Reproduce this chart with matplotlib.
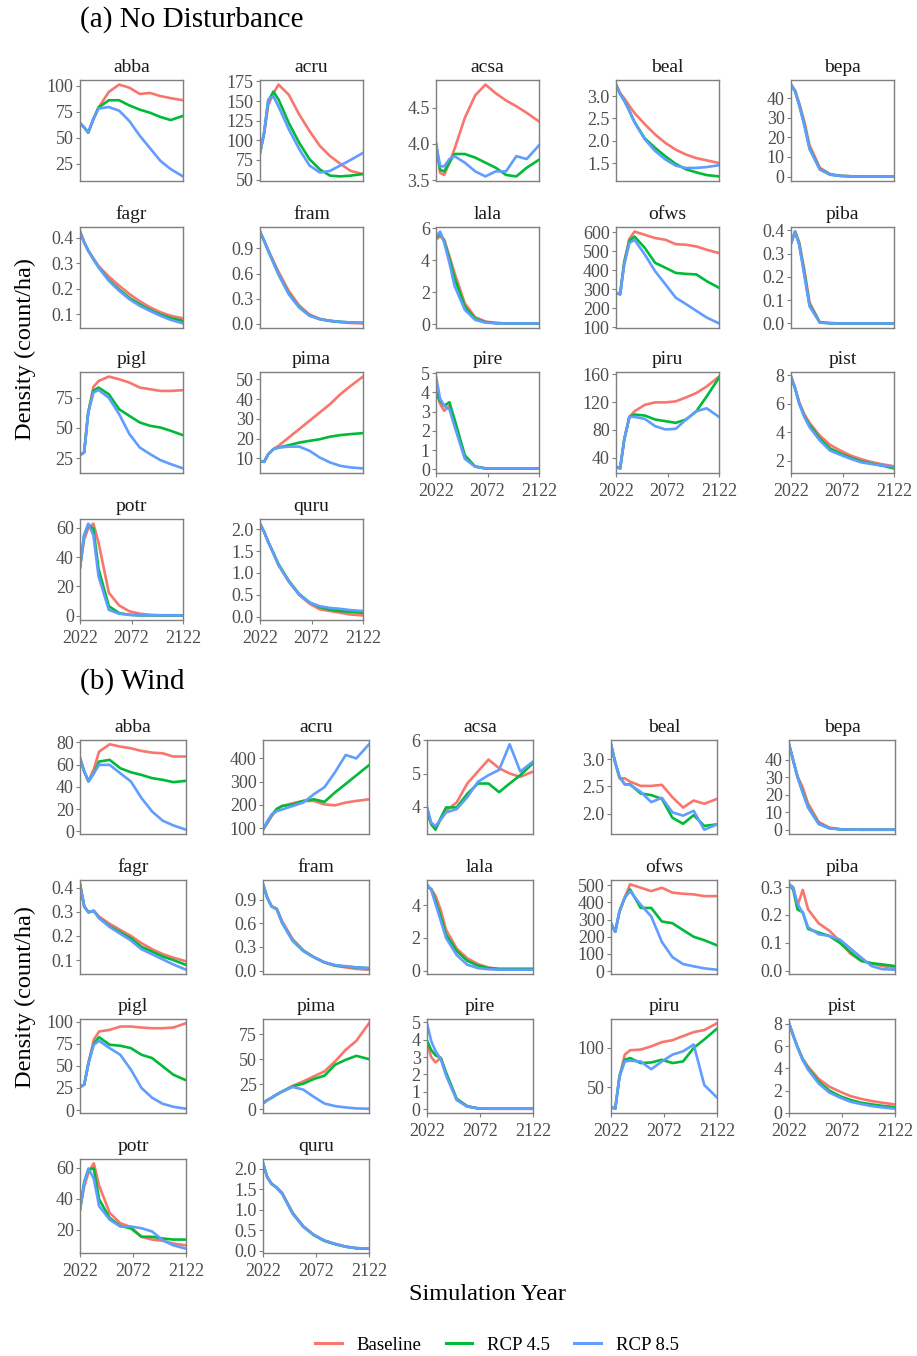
import numpy as np
import matplotlib
matplotlib.use("Agg")
import matplotlib.pyplot as plt
from matplotlib.lines import Line2D

plt.rcParams['font.family'] = ['Liberation Serif', 'DejaVu Serif']

years = [2022, 2026, 2030, 2035, 2040, 2050, 2060, 2070, 2080, 2090, 2100, 2110, 2122]
scenarios = ['Baseline', 'RCP 4.5', 'RCP 8.5']
colors = ['#F8766D', '#00BA38', '#619CFF']
species = ['abba', 'acru', 'acsa', 'beal', 'bepa', 'fagr', 'fram', 'lala', 'ofws',
           'piba', 'pigl', 'pima', 'pire', 'piru', 'pist', 'potr', 'quru']

# (a) No Disturbance -- rows: Baseline, RCP 4.5, RCP 8.5
nd_abba = [[64, 60, 55, 68, 79, 94, 101, 98, 92, 93, 90, 88, 86],
           [64, 60, 55, 68, 79, 86, 86, 81, 77, 74, 70, 67, 71],
           [64, 60, 55, 68, 78, 79.5, 76, 66, 52, 40, 28, 20, 13]]
nd_acru = [[84, 108, 145, 160, 171, 158, 133, 112, 93, 80, 70, 61, 57],
           [84, 110, 150, 162, 152, 122, 97, 76, 63, 55, 54, 55, 57],
           [84, 110, 152, 156, 143, 114, 89, 68, 59, 61, 68, 75, 84]]
nd_acsa = [[4.0, 3.60, 3.57, 3.74, 3.93, 4.36, 4.67, 4.82, 4.70, 4.60, 4.52, 4.43, 4.31],
           [4.0, 3.64, 3.62, 3.74, 3.86, 3.86, 3.81, 3.74, 3.67, 3.57, 3.55, 3.67, 3.78],
           [4.01, 3.69, 3.69, 3.79, 3.83, 3.74, 3.62, 3.55, 3.62, 3.62, 3.83, 3.79, 3.98]]
nd_beal = [[3.26, 3.07, 2.95, 2.78, 2.62, 2.37, 2.14, 1.95, 1.80, 1.69, 1.61, 1.56, 1.50],
           [3.26, 3.05, 2.90, 2.67, 2.42, 2.05, 1.84, 1.65, 1.48, 1.36, 1.29, 1.23, 1.20],
           [3.26, 3.05, 2.90, 2.67, 2.41, 2.03, 1.77, 1.58, 1.44, 1.39, 1.39, 1.41, 1.45]]
nd_bepa = [[47, 44, 37.5, 28, 16, 4.5, 1.2, 0.4, 0.15, 0.1, 0.05, 0.05, 0.05],
           [47, 43.5, 36.5, 26.5, 14.5, 3.8, 1.0, 0.3, 0.1, 0.05, 0.05, 0.05, 0.05],
           [47, 43.5, 36.5, 26, 14, 3.5, 0.9, 0.3, 0.1, 0.05, 0.05, 0.05, 0.05]]
nd_fagr = [[0.425, 0.385, 0.352, 0.32, 0.29, 0.248, 0.213, 0.18, 0.152, 0.128, 0.109, 0.095, 0.085],
           [0.425, 0.383, 0.35, 0.317, 0.286, 0.235, 0.198, 0.165, 0.14, 0.118, 0.10, 0.086, 0.075],
           [0.425, 0.383, 0.35, 0.317, 0.285, 0.232, 0.193, 0.16, 0.134, 0.114, 0.095, 0.079, 0.065]]
nd_fram = [[1.10, 0.99, 0.88, 0.75, 0.62, 0.39, 0.22, 0.11, 0.06, 0.035, 0.02, 0.01, 0.005],
           [1.10, 0.99, 0.87, 0.73, 0.59, 0.36, 0.20, 0.10, 0.055, 0.035, 0.024, 0.016, 0.012],
           [1.10, 0.99, 0.87, 0.73, 0.59, 0.35, 0.195, 0.096, 0.056, 0.036, 0.024, 0.016, 0.012]]
nd_lala = [[5.3, 5.5, 5.3, 4.26, 3.2, 1.3, 0.44, 0.17, 0.08, 0.05, 0.05, 0.05, 0.05],
           [5.4, 5.7, 5.2, 4.1, 2.9, 1.1, 0.35, 0.13, 0.07, 0.05, 0.05, 0.05, 0.05],
           [5.5, 5.8, 5.1, 3.85, 2.4, 0.9, 0.27, 0.1, 0.06, 0.05, 0.05, 0.05, 0.05]]
nd_ofws = [[282, 274, 445, 565, 603, 586, 569, 560, 537, 534, 525, 508, 490],
           [282, 274, 440, 555, 577, 517, 439, 413, 386, 381, 378, 343, 308],
           [282, 274, 430, 543, 560, 482, 395, 326, 256, 222, 187, 152, 121]]
nd_piba = [[0.345, 0.395, 0.35, 0.23, 0.09, 0.005, 0.001, 0, 0, 0, 0, 0, 0],
           [0.345, 0.395, 0.34, 0.215, 0.08, 0.004, 0.001, 0, 0, 0, 0, 0, 0],
           [0.345, 0.395, 0.337, 0.205, 0.073, 0.003, 0.001, 0, 0, 0, 0, 0, 0]]
nd_pigl = [[27.5, 29.7, 63, 84, 89, 92.7, 90.5, 87.7, 83.6, 82.2, 80.8, 80.8, 81.4],
           [27.5, 29.7, 63, 81, 83.6, 78, 65.6, 60, 54.6, 51.8, 50.4, 47.7, 44],
           [27.5, 29.7, 62.8, 79.4, 81.6, 75, 61.5, 44.9, 33.8, 28.3, 23.3, 20, 16.4]]
nd_pima = [[8.8, 8.3, 12.2, 14.7, 16.4, 20.6, 24.8, 29, 33.2, 37.4, 42.4, 46.6, 51.3],
           [8.8, 8.3, 12.2, 14.7, 15.5, 16.7, 18, 18.9, 19.7, 21, 21.8, 22.3, 22.8],
           [8.8, 8.3, 12.2, 14.7, 15.5, 16, 16, 13.9, 10.5, 8, 6.3, 5.5, 5]]
nd_pire = [[4.1, 3.4, 3.04, 3.3, 2.4, 0.6, 0.15, 0.05, 0.05, 0.05, 0.05, 0.05, 0.05],
           [4.0, 3.55, 3.3, 3.49, 2.6, 0.73, 0.15, 0.05, 0.05, 0.05, 0.05, 0.05, 0.05],
           [4.82, 3.67, 3.3, 3.13, 2.24, 0.55, 0.14, 0.05, 0.05, 0.05, 0.05, 0.05, 0.05]]
nd_piru = [[26.7, 24.3, 66, 98.6, 106.7, 116, 119.5, 119.5, 121, 126.7, 133, 142.4, 156.7],
           [26.7, 24.3, 66, 98.6, 102, 100.5, 94.8, 92.4, 90, 94.8, 106.7, 128, 155],
           [26.7, 24.3, 66, 98.6, 98.6, 95.7, 85.2, 80.5, 81.4, 94.8, 106.7, 111, 98.6]]
nd_pist = [[7.9, 7.1, 6.1, 5.25, 4.65, 3.75, 3.1, 2.7, 2.35, 2.1, 1.9, 1.75, 1.6],
           [7.9, 7.06, 6.0, 5.1, 4.5, 3.55, 2.85, 2.5, 2.2, 1.95, 1.8, 1.65, 1.45],
           [7.9, 7.06, 6.0, 5.06, 4.35, 3.41, 2.7, 2.4, 2.12, 1.88, 1.76, 1.65, 1.58]]
nd_potr = [[33, 52, 60, 63, 50, 15.7, 7, 3, 1.4, 0.6, 0.3, 0.3, 0.3],
           [33, 55, 62, 59.5, 32, 6.5, 1.8, 0.6, 0.2, 0.2, 0.2, 0.2, 0.2],
           [33, 55, 63, 55, 27, 4, 1.3, 0.6, 0.3, 0.3, 0.3, 0.3, 0.3]]
nd_quru = [[2.13, 1.94, 1.71, 1.45, 1.18, 0.80, 0.50, 0.30, 0.17, 0.13, 0.09, 0.05, 0.03],
           [2.13, 1.94, 1.71, 1.46, 1.20, 0.82, 0.52, 0.33, 0.22, 0.16, 0.13, 0.11, 0.09],
           [2.13, 1.94, 1.71, 1.45, 1.18, 0.81, 0.51, 0.32, 0.24, 0.20, 0.18, 0.15, 0.13]]

# (b) Wind
wd_abba = [[65.7, 53.7, 45, 56, 71.6, 78.2, 76.1, 74.6, 72.2, 70.7, 70.1, 67.2, 67.2],
           [65.7, 53.7, 45, 52, 62.7, 64.2, 56.7, 53.1, 50.7, 47.8, 46.3, 44.2, 45.4],
           [65.7, 53.7, 44.8, 52.2, 59.7, 59.7, 52.2, 44.8, 29.9, 17.9, 9.6, 5.4, 1.5]]
wd_acru = [[93, 120, 150, 180, 195, 207, 217, 217, 202, 198, 210, 217, 224],
           [93, 125, 155, 183, 195, 202, 217, 224, 213, 254, 290, 327, 371],
           [93, 129, 158, 173, 180, 195, 210, 246, 276, 341, 415, 400, 461]]
wd_acsa = [[3.8, 3.5, 3.35, 3.62, 3.88, 4.13, 4.70, 5.06, 5.42, 5.16, 5.0, 4.9, 5.06],
           [3.9, 3.47, 3.31, 3.67, 3.98, 3.98, 4.39, 4.70, 4.70, 4.44, 4.70, 4.95, 5.31],
           [4.0, 3.52, 3.42, 3.62, 3.83, 3.93, 4.29, 4.75, 4.95, 5.11, 5.88, 5.06, 5.36]]
wd_beal = [[3.28, 2.94, 2.65, 2.65, 2.59, 2.51, 2.51, 2.53, 2.30, 2.11, 2.24, 2.18, 2.27],
           [3.28, 2.94, 2.68, 2.54, 2.54, 2.37, 2.34, 2.27, 1.92, 1.81, 1.97, 1.77, 1.80],
           [3.28, 2.94, 2.68, 2.54, 2.53, 2.40, 2.21, 2.29, 2.02, 1.96, 2.05, 1.70, 1.80]]
wd_bepa = [[48.7, 39.4, 30.5, 24, 15, 4.5, 1.3, 0.4, 0.1, 0.05, 0.05, 0.05, 0.05],
           [48.7, 39.4, 30.2, 21.5, 13, 3.5, 0.9, 0.3, 0.1, 0.05, 0.05, 0.05, 0.05],
           [48.7, 39.4, 30.2, 20.9, 12.6, 3.3, 0.9, 0.3, 0.1, 0.05, 0.05, 0.05, 0.05]]
wd_fagr = [[0.414, 0.322, 0.298, 0.304, 0.28, 0.25, 0.225, 0.20, 0.17, 0.145, 0.125, 0.11, 0.095],
           [0.414, 0.322, 0.298, 0.304, 0.275, 0.24, 0.215, 0.19, 0.155, 0.135, 0.115, 0.10, 0.08],
           [0.414, 0.322, 0.298, 0.304, 0.273, 0.237, 0.209, 0.181, 0.145, 0.124, 0.103, 0.082, 0.06]]
wd_fram = [[1.10, 0.93, 0.82, 0.79, 0.63, 0.40, 0.26, 0.17, 0.10, 0.06, 0.04, 0.02, 0.01],
           [1.10, 0.93, 0.82, 0.78, 0.61, 0.38, 0.25, 0.17, 0.105, 0.065, 0.05, 0.04, 0.03],
           [1.10, 0.93, 0.82, 0.78, 0.61, 0.38, 0.25, 0.17, 0.105, 0.07, 0.055, 0.04, 0.03]]
wd_lala = [[5.16, 5.0, 4.6, 3.7, 2.5, 1.35, 0.75, 0.4, 0.18, 0.1, 0.1, 0.1, 0.1],
           [5.2, 5.0, 4.3, 3.3, 2.2, 1.2, 0.6, 0.3, 0.15, 0.1, 0.1, 0.1, 0.1],
           [5.3, 4.95, 4.1, 3.05, 2.0, 0.95, 0.36, 0.15, 0.08, 0.05, 0.05, 0.05, 0.05]]
wd_ofws = [[279, 229, 348, 430, 506, 486, 466, 486, 457, 451, 447, 437, 437],
           [279, 229, 348, 427, 476, 368, 368, 289, 279, 239, 200, 180, 150],
           [279, 229, 348, 427, 466, 387, 318, 170, 81, 41, 28, 16, 8]]
wd_piba = [[0.31, 0.30, 0.233, 0.29, 0.22, 0.17, 0.144, 0.106, 0.061, 0.036, 0.027, 0.017, 0.01],
           [0.31, 0.29, 0.22, 0.21, 0.15, 0.137, 0.125, 0.10, 0.067, 0.036, 0.027, 0.023, 0.017],
           [0.31, 0.296, 0.24, 0.207, 0.156, 0.131, 0.125, 0.112, 0.08, 0.048, 0.017, 0.006, 0.004]]
wd_pigl = [[26, 28.8, 53.2, 79.4, 88.8, 90.6, 94.4, 94.4, 93.3, 92.5, 92.5, 93.3, 98.1],
           [26, 28.8, 53.2, 75, 82.4, 73.8, 72.7, 70, 62.5, 58.8, 49.4, 40, 33.7],
           [26, 28.8, 53.2, 73.8, 78.3, 70, 62.5, 45.7, 25, 13.9, 7.1, 3.7, 1.5]]
wd_pima = [[6, 9.3, 11.6, 14.9, 17.8, 23.5, 28, 33, 38, 47.9, 59.5, 68.4, 86],
           [6, 9.3, 11.6, 14.9, 17.8, 23, 25.7, 30.4, 33.7, 44.6, 49.5, 53.5, 50.2],
           [6, 9.3, 11.6, 14.9, 17.8, 22.4, 19.8, 12.5, 5.9, 3.3, 2, 1, 0.7]]
wd_pire = [[3.8, 3.0, 2.69, 2.95, 2.05, 0.55, 0.16, 0.05, 0.03, 0.03, 0.03, 0.03, 0.03],
           [3.95, 3.4, 3.1, 2.95, 2.1, 0.6, 0.18, 0.05, 0.03, 0.03, 0.03, 0.03, 0.03],
           [4.94, 3.91, 3.35, 2.88, 1.94, 0.53, 0.15, 0.06, 0.03, 0.03, 0.03, 0.03, 0.03]]
wd_piru = [[25.2, 23, 63.7, 91.5, 97, 97.9, 102, 107.3, 109.8, 115, 120, 122.6, 131.2],
           [25.2, 23, 63.7, 85, 87.2, 80.8, 81.6, 85, 80.8, 82.9, 100, 110.7, 124.4],
           [25.2, 23, 63.7, 82.9, 83.8, 82.9, 73, 82.9, 91.5, 95.7, 104.3, 53, 37.2]]
wd_pist = [[8.06, 6.96, 5.95, 4.85, 4.15, 3.05, 2.35, 1.9, 1.5, 1.25, 1.05, 0.9, 0.75],
           [8.06, 6.96, 5.9, 4.78, 4.0, 2.8, 2.0, 1.5, 1.15, 0.9, 0.75, 0.62, 0.5],
           [8.06, 6.96, 5.9, 4.72, 3.88, 2.63, 1.82, 1.37, 0.99, 0.78, 0.6, 0.48, 0.36]]
wd_potr = [[33.2, 48, 57, 62.9, 48.6, 31, 24.4, 21.8, 15.6, 13.8, 13, 11.2, 10.1],
           [33.2, 50.8, 59, 59.6, 39.8, 27.7, 22.6, 21, 15.6, 15.6, 14.5, 13.8, 13.8],
           [33.2, 50.8, 59.6, 53, 35.4, 26.6, 22.2, 22.2, 21.1, 19, 13.4, 10.1, 7.9]]
wd_quru = [[2.14, 1.80, 1.64, 1.55, 1.42, 0.93, 0.60, 0.39, 0.25, 0.17, 0.10, 0.06, 0.05],
           [2.14, 1.80, 1.64, 1.54, 1.40, 0.91, 0.59, 0.38, 0.24, 0.16, 0.10, 0.065, 0.05],
           [2.14, 1.80, 1.64, 1.54, 1.40, 0.91, 0.59, 0.39, 0.25, 0.17, 0.10, 0.065, 0.055]]

nd_yticks = {'abba': [25, 50, 75, 100], 'acru': [50, 75, 100, 125, 150, 175],
             'acsa': [3.5, 4.0, 4.5], 'beal': [1.5, 2.0, 2.5, 3.0], 'bepa': [0, 10, 20, 30, 40],
             'fagr': [0.1, 0.2, 0.3, 0.4], 'fram': [0.0, 0.3, 0.6, 0.9], 'lala': [0, 2, 4, 6],
             'ofws': [100, 200, 300, 400, 500, 600], 'piba': [0.0, 0.1, 0.2, 0.3, 0.4],
             'pigl': [25, 50, 75], 'pima': [10, 20, 30, 40, 50], 'pire': [0, 1, 2, 3, 4, 5],
             'piru': [40, 80, 120, 160], 'pist': [2, 4, 6, 8], 'potr': [0, 20, 40, 60],
             'quru': [0.0, 0.5, 1.0, 1.5, 2.0]}
wd_yticks = {'abba': [0, 20, 40, 60, 80], 'acru': [100, 200, 300, 400],
             'acsa': [4, 5, 6], 'beal': [2.0, 2.5, 3.0], 'bepa': [0, 10, 20, 30, 40],
             'fagr': [0.1, 0.2, 0.3, 0.4], 'fram': [0.0, 0.3, 0.6, 0.9], 'lala': [0, 2, 4],
             'ofws': [0, 100, 200, 300, 400, 500], 'piba': [0.0, 0.1, 0.2, 0.3],
             'pigl': [0, 25, 50, 75, 100], 'pima': [0, 25, 50, 75], 'pire': [0, 1, 2, 3, 4, 5],
             'piru': [50, 100], 'pist': [0, 2, 4, 6, 8], 'potr': [20, 40, 60],
             'quru': [0.0, 0.5, 1.0, 1.5, 2.0]}
xticks = [2022, 2072, 2122]

nd_data = {s: globals()['nd_' + s] for s in species}
wd_data = {s: globals()['wd_' + s] for s in species}

W, H = 917, 1356
fig = plt.figure(figsize=(W / 100, H / 100), dpi=100)

tick_col = '#4D4D4D'
frame_col = '#7F7F7F'


def fmt_ticks(ticks):
    if all(float(t).is_integer() for t in ticks) and not any(isinstance(t, float) for t in ticks):
        return ['%d' % t for t in ticks]
    return ['%.1f' % t for t in ticks]


def draw_panel(data, yticks, lefts, tops, w, h):
    for i, sp in enumerate(species):
        r, c = divmod(i, 5)
        ax = fig.add_axes([lefts[c] / W, 1 - (tops[r] + h) / H, w / W, h / H])
        series = data[sp]
        for vals, col in zip(series, colors):
            ax.plot(years, vals, color=col, lw=1.9, solid_joinstyle='round')
        allv = np.concatenate([np.array(v, float) for v in series])
        lo, hi = allv.min(), allv.max()
        pad = (hi - lo) * 0.05
        ax.set_xlim(2022, 2122)
        ax.set_yticks(yticks[sp])
        ax.set_yticklabels(fmt_ticks(yticks[sp]))
        ax.set_ylim(lo - pad, hi + pad)
        bottom = (r == 3) or (r == 2 and c >= 2)
        if bottom:
            ax.set_xticks(xticks)
            ax.set_xticklabels([str(x) for x in xticks])
        else:
            ax.set_xticks([])
        ax.tick_params(direction='out', length=3, width=0.8, color=frame_col,
                       labelsize=13, labelcolor=tick_col, pad=1.5)
        ax.tick_params(axis='x', pad=4)
        for sp_ in ax.spines.values():
            sp_.set_color(frame_col)
            sp_.set_linewidth(1.0)
        ax.set_title(sp, fontsize=14, pad=6, color='#1A1A1A')


draw_panel(nd_data, nd_yticks, [80, 260, 436, 616, 791], [80, 227, 372, 519], 103, 101)
draw_panel(wd_data, wd_yticks, [80, 263, 427, 611, 789], [740, 880, 1019, 1159], 106, 94)

fig.text(80 / W, 1 - 20 / H, '(a) No Disturbance', fontsize=21, ha='left', va='center')
fig.text(80 / W, 1 - 682 / H, '(b) Wind', fontsize=21, ha='left', va='center')
fig.text(25 / W, 1 - 349 / H, 'Density (count/ha)', fontsize=17.5, rotation=90,
         ha='center', va='center')
fig.text(25 / W, 1 - 997 / H, 'Density (count/ha)', fontsize=17.5, rotation=90,
         ha='center', va='center')
fig.text(487 / W, 1 - 1295 / H, 'Simulation Year', fontsize=17.5, ha='center', va='center')

handles = [Line2D([], [], color=c, lw=2.2) for c in colors]
fig.legend(handles, scenarios, loc='center', bbox_to_anchor=(497 / W, 1 - 1345 / H),
           ncol=3, frameon=False, fontsize=13.5, handlelength=1.4, handletextpad=0.8,
           columnspacing=1.3)

fig.savefig('out.png', dpi=100, facecolor='white')
